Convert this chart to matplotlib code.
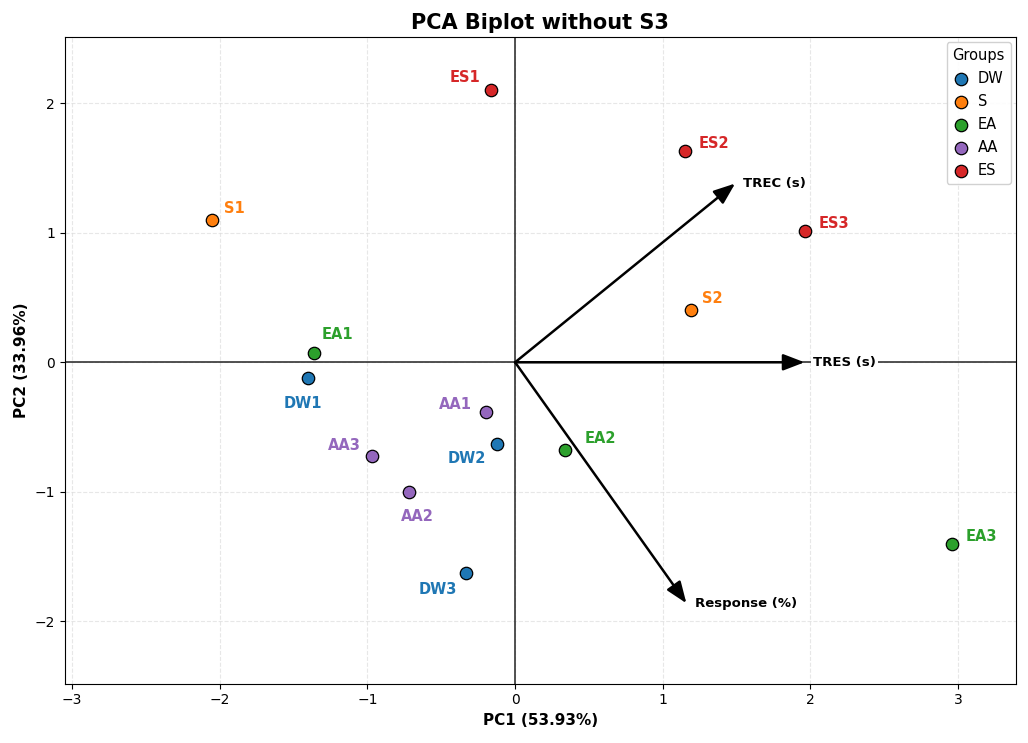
import numpy as np
import matplotlib
matplotlib.use('Agg')
import matplotlib.pyplot as plt

# sample scores (PC1, PC2)
names = ['DW1', 'DW2', 'DW3', 'S1', 'S2', 'EA1', 'EA2', 'EA3',
         'AA1', 'AA2', 'AA3', 'ES1', 'ES2', 'ES3']
groups = ['DW', 'DW', 'DW', 'S', 'S', 'EA', 'EA', 'EA',
          'AA', 'AA', 'AA', 'ES', 'ES', 'ES']
pc1 = [-1.40, -0.12, -0.33, -2.05, 1.19, -1.36, 0.34, 2.96,
       -0.20, -0.72, -0.97, -0.16, 1.15, 1.96]
pc2 = [-0.12, -0.63, -1.63, 1.10, 0.40, 0.07, -0.68, -1.40,
       -0.38, -1.00, -0.72, 2.10, 1.63, 1.01]

# loading vectors (scaled)
vars_ = ['TRES (s)', 'TREC (s)', 'Response (%)']
load1 = [1.96, 1.49, 1.16]
load2 = [0.0, 1.38, -1.86]

group_order = ['DW', 'S', 'EA', 'AA', 'ES']
group_colors = {'DW': '#1f77b4', 'S': '#ff7f0e', 'EA': '#2ca02c',
                'AA': '#9467bd', 'ES': '#d62728'}

# label offsets in points (layout only)
offs = {'DW1': (-4, -13, 'center', 'top'), 'DW2': (-8, -5, 'right', 'top'),
        'DW3': (-7, -6, 'right', 'top'), 'S1': (8, 3, 'left', 'bottom'),
        'S2': (8, 3, 'left', 'bottom'), 'EA1': (5, 8, 'left', 'bottom'),
        'EA2': (14, 3, 'left', 'bottom'), 'EA3': (10, 0, 'left', 'bottom'),
        'AA1': (-10, 0, 'right', 'bottom'), 'AA2': (6, -12, 'center', 'top'),
        'AA3': (-8, 2, 'right', 'bottom'), 'ES1': (-8, 4, 'right', 'bottom'),
        'ES2': (10, 0, 'left', 'bottom'), 'ES3': (10, 0, 'left', 'bottom')}

fig, ax = plt.subplots(figsize=(10.28, 7.43), dpi=100)
ax.set_axisbelow(True)

ax.axhline(0, color='#222222', lw=1.1, zorder=1)
ax.axvline(0, color='#222222', lw=1.1, zorder=1)
ax.grid(True, ls='--', color='#dddddd', alpha=0.7, lw=0.8, zorder=0)

for g in group_order:
    idx = [i for i, gg in enumerate(groups) if gg == g]
    ax.scatter([pc1[i] for i in idx], [pc2[i] for i in idx], s=80,
               color=group_colors[g], edgecolor='black', lw=0.9,
               label=g, zorder=4)

for i, n in enumerate(names):
    dx, dy, ha, va = offs[n]
    ax.annotate(n, (pc1[i], pc2[i]), xytext=(dx, dy),
                textcoords='offset points', ha=ha, va=va,
                color=group_colors[groups[i]], fontsize=10.5,
                fontweight='bold', zorder=5)

for v, a, b in zip(vars_, load1, load2):
    ax.annotate('', xy=(a, b), xytext=(0, 0),
                arrowprops=dict(arrowstyle='-|>,head_length=1.3,head_width=0.5',
                                color='black', lw=1.8, shrinkA=0, shrinkB=0),
                zorder=3)
    ax.annotate(v, (a, b), xytext=(6, 0), textcoords='offset points',
                ha='left', va='center', fontsize=9.5, fontweight='bold',
                color='black', zorder=5,
                bbox=dict(boxstyle='square,pad=0.15', fc='white', ec='none'))

ax.set_xlim(-3.05, 3.39)
ax.set_ylim(-2.48, 2.51)
ax.set_xticks([-3, -2, -1, 0, 1, 2, 3])
ax.set_yticks([-2, -1, 0, 1, 2])
ax.tick_params(labelsize=10)

ax.set_xlabel('PC1 (53.93%)', fontsize=11, fontweight='bold')
ax.set_ylabel('PC2 (33.96%)', fontsize=11, fontweight='bold')
ax.set_title('PCA Biplot without S3', fontsize=15, fontweight='bold', pad=6)

ax.legend(title='Groups', loc='upper right', fontsize=10.5, title_fontsize=10.5,
          framealpha=0.9, labelspacing=0.55, borderaxespad=0.35,
          handlelength=1.0, handletextpad=0.7)

fig.subplots_adjust(left=0.063, right=0.988, top=0.95, bottom=0.08)
fig.savefig('out.png', dpi=100)
